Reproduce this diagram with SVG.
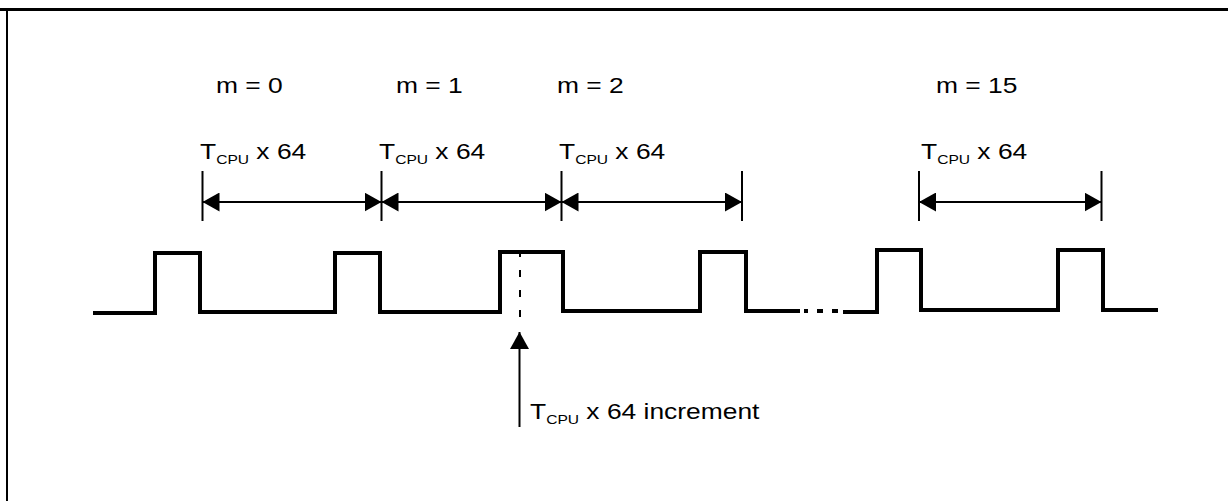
<svg xmlns="http://www.w3.org/2000/svg" width="1228" height="501" viewBox="0 0 1228 501">
<style>
  .t { font-family: "Liberation Sans", Arial, sans-serif; font-size: 22px; fill: #000; }
  .sub { font-size: 13px; }
  .wave { fill: none; stroke: #000; stroke-width: 4; stroke-linejoin: miter; stroke-linecap: butt; }
  .tick { stroke: #000; stroke-width: 2; }
  .dim { stroke: #000; stroke-width: 2; marker-start: url(#ah); marker-end: url(#ah); }
  .frame { fill: none; stroke: #000; }
</style>
<defs>
  <marker id="ah" viewBox="0 0 17 19" markerWidth="17" markerHeight="19" markerUnits="userSpaceOnUse" refX="17" refY="9.5" orient="auto-start-reverse">
    <path d="M0,0 L17,9.5 L0,19 Z" fill="#000"/>
  </marker>
  <marker id="up" viewBox="0 0 17 19" markerWidth="17" markerHeight="19" markerUnits="userSpaceOnUse" refX="17" refY="9.5" orient="auto">
    <path d="M0,0 L17,9.5 L0,19 Z" fill="#000"/>
  </marker>
</defs>
<g id="frame">
  <line class="frame" x1="0" y1="9.5" x2="1228" y2="9.5" stroke-width="3"/>
  <line class="frame" x1="7" y1="8" x2="7" y2="501" stroke-width="2"/>
</g>
<g id="labels">
  <text class="t" transform="translate(216,93) scale(1.2,1)">m = 0</text>
  <text class="t" transform="translate(396,93) scale(1.2,1)">m = 1</text>
  <text class="t" transform="translate(557,93) scale(1.2,1)">m = 2</text>
  <text class="t" transform="translate(936,93) scale(1.2,1)">m = 15</text>
  <text class="t" transform="translate(200,159) scale(1.2,1)">T<tspan class="sub" dy="5">CPU</tspan><tspan dy="-5"> x 64</tspan></text>
  <text class="t" transform="translate(379,159) scale(1.2,1)">T<tspan class="sub" dy="5">CPU</tspan><tspan dy="-5"> x 64</tspan></text>
  <text class="t" transform="translate(559,159) scale(1.2,1)">T<tspan class="sub" dy="5">CPU</tspan><tspan dy="-5"> x 64</tspan></text>
  <text class="t" transform="translate(921,159) scale(1.2,1)">T<tspan class="sub" dy="5">CPU</tspan><tspan dy="-5"> x 64</tspan></text>
</g>
<g id="dimensions">
  <line class="tick" x1="202.5" y1="171" x2="202.5" y2="221"/>
  <line class="tick" x1="381.5" y1="171" x2="381.5" y2="221"/>
  <line class="tick" x1="561.5" y1="171" x2="561.5" y2="221"/>
  <line class="tick" x1="742" y1="171" x2="742" y2="221"/>
  <line class="tick" x1="919" y1="171" x2="919" y2="221"/>
  <line class="tick" x1="1101.5" y1="171" x2="1101.5" y2="221"/>
  <line class="dim" x1="202.5" y1="202" x2="381.5" y2="202"/>
  <line class="dim" x1="381.5" y1="202" x2="561.5" y2="202"/>
  <line class="dim" x1="561.5" y1="202" x2="742" y2="202"/>
  <line class="dim" x1="919" y1="202" x2="1101.5" y2="202"/>
</g>
<g id="waveform">
  <path class="wave" d="M93,313 H155 V253 H200 V312 H335 V253 H380 V312 H500 V252 H563 V311 H700 V252 H746 V311 H800"/>
  <path class="wave" d="M804,311 H808 M817,311 H823 M832,311 H838"/>
  <path class="wave" d="M843,312 H877 V250 H921 V310 H1058 V250 H1103 V310 H1158"/>
  <line x1="520" y1="250" x2="520" y2="317" stroke="#000" stroke-width="2" stroke-dasharray="7 13"/>
</g>
<g id="increment">
  <line x1="519.5" y1="427" x2="519.5" y2="332" stroke="#000" stroke-width="2" marker-end="url(#up)"/>
  <text class="t" transform="translate(530,419) scale(1.2,1)">T<tspan class="sub" dy="5">CPU</tspan><tspan dy="-5"> x 64 increment</tspan></text>
</g>
</svg>
